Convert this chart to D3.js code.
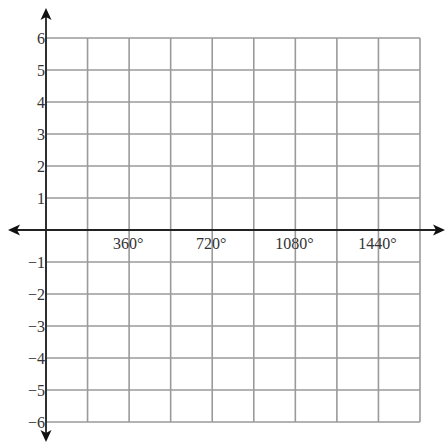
<!DOCTYPE html>
<html><head><meta charset="utf-8">
<script src="https://cdn.jsdelivr.net/npm/d3@7"></script>
<style>html,body{margin:0;padding:0;background:#fff;}svg{display:block;}</style>
</head><body>
<svg id="c" width="446" height="447"></svg>
<script>
const xTicks = [360, 720, 1080, 1440];
const xTickLabels = ["360°", "720°", "1080°", "1440°"];
const yTicks = [-6, -5, -4, -3, -2, -1, 1, 2, 3, 4, 5, 6];
const xGrid = [0, 180, 360, 540, 720, 900, 1080, 1260, 1440, 1620];
const yGrid = [-6, -5, -4, -3, -2, -1, 0, 1, 2, 3, 4, 5, 6];

const svg = d3.select("#c");
const x = d3.scaleLinear().domain([0, 1620]).range([46, 420]);
const y = d3.scaleLinear().domain([-6, 6]).range([422, 38]);

const grid = svg.append("g").attr("stroke", "#9a9a9a").attr("stroke-width", 1.6);
grid.selectAll("line.v").data(xGrid).join("line")
  .attr("x1", d => x(d)).attr("x2", d => x(d)).attr("y1", y(6)).attr("y2", y(-6));
grid.selectAll("line.h").data(yGrid).join("line")
  .attr("y1", d => y(d)).attr("y2", d => y(d)).attr("x1", x(0)).attr("x2", x(1620));

// axes
const ax = svg.append("g").attr("stroke", "#222").attr("stroke-width", 1.8);
ax.append("line").attr("x1", 14).attr("x2", 440).attr("y1", y(0)).attr("y2", y(0));
ax.append("line").attr("x1", x(0)).attr("x2", x(0)).attr("y1", 14).attr("y2", 438);

function arrow(tx, ty, angle) {
  svg.append("path")
    .attr("d", "M0,0 L-12,-5.5 L-9,0 L-12,5.5 Z")
    .attr("fill", "#111")
    .attr("transform", `translate(${tx},${ty}) rotate(${angle})`);
}
arrow(445, y(0), 0);
arrow(8, y(0), 180);
arrow(x(0), 8, -90);
arrow(x(0), 442, 90);

// x labels
svg.append("g").selectAll("text").data(xTicks).join("text")
  .attr("x", d => x(d) - 1).attr("y", y(0) + 19)
  .attr("text-anchor", "middle")
  .attr("font-family", "Liberation Serif, serif").attr("font-size", 16)
  .attr("fill", "#333")
  .text((d, i) => xTickLabels[i]);

// y labels
svg.append("g").selectAll("text").data(yTicks).join("text")
  .attr("x", x(0) - 1).attr("y", d => y(d) + 5.5)
  .attr("text-anchor", "end")
  .attr("font-family", "Liberation Serif, serif").attr("font-size", 16)
  .attr("fill", "#333")
  .text(d => d < 0 ? "\u2212" + Math.abs(d) : String(d));
</script>
</body></html>
